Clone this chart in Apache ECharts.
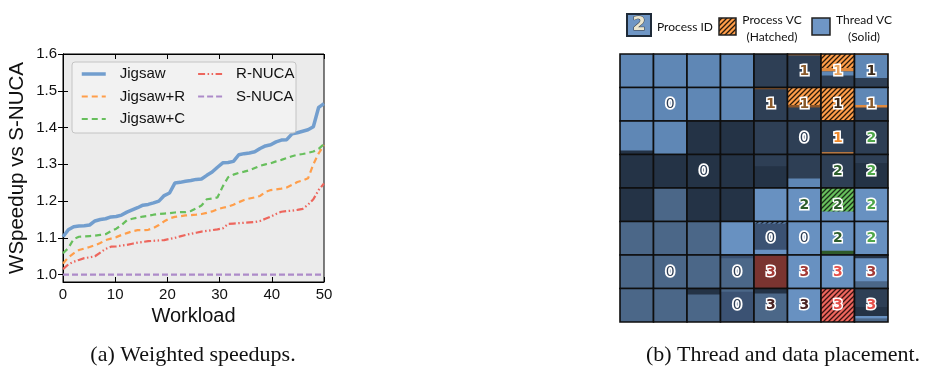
<!DOCTYPE html>
<html><head><meta charset="utf-8">
<script src="https://cdn.jsdelivr.net/npm/echarts@6/dist/echarts.min.js"></script>
<style>html,body{margin:0;padding:0;background:#fff}#c{width:931px;height:375px}</style>
</head><body><div id="c"></div>
<script>
// ---------- Panel (a): weighted speedups ----------
const xTicks = [0, 10, 20, 30, 40, 50];
const yTicks = [1.0, 1.1, 1.2, 1.3, 1.4, 1.5, 1.6];
const seriesNames = ['Jigsaw', 'Jigsaw+R', 'Jigsaw+C', 'R-NUCA', 'S-NUCA'];
const jigsaw = [1.103,1.122,1.130,1.132,1.133,1.135,1.146,1.150,1.152,1.157,1.158,1.162,1.170,1.176,1.182,1.189,1.191,1.195,1.200,1.215,
  1.222,1.249,1.251,1.254,1.256,1.259,1.260,1.270,1.279,1.292,1.304,1.305,1.308,1.326,1.329,1.331,1.334,1.343,1.350,1.353,
  1.361,1.366,1.367,1.383,1.386,1.390,1.394,1.402,1.455,1.465];
const jigsawR = [1.030,1.047,1.058,1.067,1.071,1.075,1.080,1.086,1.094,1.098,1.102,1.108,1.113,1.118,1.121,1.121,1.122,1.127,1.135,1.145,
  1.153,1.157,1.159,1.161,1.162,1.163,1.165,1.168,1.172,1.178,1.182,1.185,1.190,1.197,1.203,1.207,1.210,1.214,1.225,1.230,
  1.232,1.234,1.237,1.244,1.252,1.256,1.262,1.300,1.330,1.352];
const jigsawC = [1.058,1.072,1.097,1.103,1.104,1.105,1.106,1.108,1.110,1.118,1.125,1.135,1.148,1.152,1.155,1.158,1.160,1.163,1.165,1.166,
  1.167,1.169,1.170,1.170,1.173,1.180,1.188,1.205,1.207,1.210,1.240,1.265,1.272,1.277,1.280,1.284,1.290,1.296,1.300,1.303,
  1.308,1.312,1.317,1.322,1.326,1.328,1.331,1.335,1.342,1.355];
const rnuca = [1.015,1.028,1.035,1.040,1.045,1.047,1.050,1.060,1.070,1.076,1.077,1.079,1.081,1.084,1.087,1.089,1.091,1.092,1.093,1.094,
  1.097,1.100,1.104,1.108,1.111,1.114,1.117,1.119,1.121,1.123,1.126,1.138,1.139,1.140,1.141,1.142,1.143,1.146,1.152,1.158,
  1.165,1.171,1.173,1.174,1.176,1.179,1.190,1.205,1.230,1.248];
const snuca = [1,1,1,1,1,1,1,1,1,1,1,1,1,1,1,1,1,1,1,1,1,1,1,1,1,1,1,1,1,1,1,1,1,1,1,1,1,1,1,1,1,1,1,1,1,1,1,1,1,1];
const workloadX = jigsaw.map((_, i) => i * 50 / (jigsaw.length - 1));

// ---------- Panel (b): thread and data placement ----------
const gridCols = ['0','1','2','3','4','5','6','7'];
const gridRows = ['0','1','2','3','4','5','6','7'];
const cellBase = [
  ['L','L','L','L','M','M','M','M'],
  ['L','L','L','L','M','M','M','M'],
  ['L','L','D','D','M','M','M','M'],
  ['D','D','D','D','D','M','M','D'],
  ['D','S','D','D','B','B','B','B'],
  ['S','S','S','B','T','B','B','B'],
  ['S','S','S','S','R','B','B','B'],
  ['S','S','S','T','S','B','hR','M']
];
// [row, col, fromFraction, toFraction, fill]
const cellLayers = [
  [0,5,0,0.04,'O'],
  [0,6,0,0.42,'hO'],[0,6,0.42,0.52,'O'],[0,6,0.52,0.64,'L'],
  [0,7,0,0.03,'O'],[0,7,0.03,0.72,'L'],
  [1,4,0,0.05,'Ob'],
  [1,5,0,0.52,'hO'],[1,5,0.52,0.6,'Ob'],
  [1,6,0,1,'hO'],
  [1,7,0,0.52,'L'],[1,7,0.52,0.6,'O'],
  [2,0,0.88,1,'D'],
  [2,6,0.93,0.98,'O'],
  [3,4,0,0.35,'M'],
  [3,5,0.72,1,'L'],
  [3,7,0,0.25,'M'],
  [4,6,0,0.7,'hG'],
  [5,4,0,0.06,'hB'],[5,4,0.84,1,'B'],
  [5,6,0.87,0.98,'G'],
  [6,3,0,0.1,'T'],
  [6,7,0,0.1,'D'],[6,7,0.78,1,'S'],
  [7,2,0,0.18,'D'],
  [7,3,0,0.1,'S'],
  [7,4,0,0.15,'D'],
  [7,7,0.55,0.82,'D'],[7,7,0.82,0.9,'B'],[7,7,0.9,1,'S']
];
// [row, col, process id, label colour]
const cellLabels = [
  [1,1,'0','W'],[2,5,'0','W'],[3,2,'0','W'],[5,4,'0','W'],[5,5,'0','W'],[6,1,'0','W'],[6,3,'0','W'],[7,3,'0','W'],
  [0,5,'1','n1'],[0,6,'1','n1o'],[0,7,'1','n1d'],[1,4,'1','n1'],[1,5,'1','n1'],[1,6,'1','n1d'],[1,7,'1','n1'],[2,6,'1','o'],
  [2,7,'2','g'],[3,6,'2','gd'],[3,7,'2','g'],[4,5,'2','gd'],[4,6,'2','gd'],[4,7,'2','g'],[5,6,'2','gd'],[5,7,'2','g'],
  [6,4,'3','rd'],[6,5,'3','rd'],[6,6,'3','r'],[6,7,'3','rd'],[7,4,'3','k3'],[7,5,'3','k3'],[7,6,'3','r'],[7,7,'3','r']
];

function hatch(bg, line) {
  const c = document.createElement('canvas');
  c.width = 5; c.height = 5;
  const g = c.getContext('2d');
  g.fillStyle = bg; g.fillRect(0, 0, 5, 5);
  g.strokeStyle = line; g.lineWidth = 1.3;
  g.beginPath();
  g.moveTo(-1, 6); g.lineTo(6, -1);
  g.moveTo(-3.5, 3.5); g.lineTo(3.5, -3.5);
  g.moveTo(1.5, 8.5); g.lineTo(8.5, 1.5);
  g.stroke();
  return { image: c, repeat: 'repeat' };
}
const fills = {
  L: '#5f87b5', B: '#6891c1', D: '#243346', M: '#2e3f55', S: '#4b6788', T: '#3b5273', R: '#7a3430',
  O: '#e08a3e', Ob: '#8a5428', G: '#2f5a2a',
  hO: hatch('#ff9e4a', '#2a1a0a'), hG: hatch('#67bf5c', '#1a3018'), hR: hatch('#ed665d', '#3a1212'), hB: hatch('#6891c1', '#1c2838')
};
const labelColors = {
  W: '#2f3f56', n1: '#8a5a2b', n1o: '#e8a35e', n1d: '#3d2b1b', o: '#f08a2c',
  g: '#4fa64a', gd: '#2d5e2b', r: '#e5514b', rd: '#a33a36', k3: '#4a2424'
};
const cellData = [];
gridRows.forEach((_, r) => gridCols.forEach((__, c) => cellData.push([c, r])));

const chart = echarts.init(document.getElementById('c'), null, { renderer: 'canvas' });
const fam = 'Liberation Sans, Arial, sans-serif';
const lineColors = ['#729ece', '#ff9e4a', '#67bf5c', '#ed665d', '#ad8bc9'];
const lineData = [jigsaw, jigsawR, jigsawC, rnuca, snuca];
const lineTypes = ['solid', [6, 4], [6, 4], [7, 2.5, 1.5, 2.5, 1.5, 2.5], [6, 3]];
const lineWidths = [3.5, 2.2, 2.2, 2.2, 2.2];
const legendCommon = {
  orient: 'vertical', itemWidth: 24, itemHeight: 12, itemGap: 7.5, padding: 0, top: 66.5,
  itemStyle: { opacity: 0 },
  textStyle: { fontSize: 15, fontFamily: fam, color: '#111', padding: [0, 0, 0, 9] }, z: 6, selectedMode: false
};
const legendItems = seriesNames.map((name, k) => ({
  name, lineStyle: { width: lineWidths[k], type: lineTypes[k], color: lineColors[k] }
}));

const option = {
  backgroundColor: '#ffffff',
  animation: false,
  grid: [
    { left: 63, top: 54, width: 261, height: 228, show: true, backgroundColor: '#ebebeb', borderColor: '#000', borderWidth: 1 },
    { left: 620, top: 54, width: 268, height: 268, show: false }
  ],
  xAxis: [
    { gridIndex: 0, type: 'value', min: 0, max: 50, interval: 10, position: 'bottom',
      axisLine: { lineStyle: { color: '#000', width: 1 } },
      axisTick: { inside: true, length: 5, lineStyle: { color: '#000' } },
      axisLabel: { fontSize: 15, fontFamily: fam, color: '#111', margin: 5 },
      splitLine: { show: false },
      name: 'Workload', nameLocation: 'middle', nameGap: 24,
      nameTextStyle: { fontSize: 20, fontFamily: fam, color: '#111' } },
    { gridIndex: 0, type: 'value', min: 0, max: 50, interval: 10, position: 'top',
      axisLine: { lineStyle: { color: '#000', width: 1 } },
      axisTick: { inside: true, length: 5, lineStyle: { color: '#000' } },
      axisLabel: { show: false }, splitLine: { show: false } },
    { gridIndex: 1, type: 'category', data: gridCols, show: false }
  ],
  yAxis: [
    { gridIndex: 0, type: 'value', min: 0.98, max: 1.6, position: 'left',
      axisLine: { show: true, lineStyle: { color: '#000', width: 1 } },
      axisTick: { show: true, inside: true, length: 5, lineStyle: { color: '#000' }, customValues: yTicks },
      axisLabel: { fontSize: 15, fontFamily: fam, color: '#111', margin: 6, customValues: yTicks, formatter: v => Number(v).toFixed(1) },
      splitLine: { show: false },
      name: 'WSpeedup vs S-NUCA', nameLocation: 'middle', nameGap: 35, nameRotate: 90,
      nameTextStyle: { fontSize: 20.5, fontFamily: fam, color: '#111' } },
    { gridIndex: 0, type: 'value', min: 0.98, max: 1.6, position: 'right',
      axisLine: { show: true, lineStyle: { color: '#000', width: 1 } },
      axisTick: { show: true, inside: true, length: 5, lineStyle: { color: '#000' }, customValues: yTicks },
      axisLabel: { show: false, customValues: yTicks }, splitLine: { show: false } },
    { gridIndex: 1, type: 'category', data: gridRows, inverse: true, show: false }
  ],
  legend: [
    Object.assign({ data: legendItems.slice(0, 3), left: 80 }, legendCommon),
    Object.assign({ data: legendItems.slice(3), left: 197 }, legendCommon)
  ],
  graphic: [
    { type: 'rect', z: 5, shape: { x: 72, y: 62, width: 224, height: 71, r: 3 },
      style: { fill: 'rgba(243,243,243,0.85)', stroke: '#c4c4c4', lineWidth: 1 } },
    // panel (b) key
    { type: 'rect', shape: { x: 627, y: 14, width: 24, height: 22 }, style: { fill: '#6f96c5', stroke: '#1e2a38', lineWidth: 2 } },
    { type: 'text', x: 639, y: 25.5, style: { text: '2', font: 'bold 19px "DejaVu Sans"', fill: '#ebe6cf', stroke: '#3a3a3a', lineWidth: 1, align: 'center', verticalAlign: 'middle' } },
    { type: 'text', x: 657, y: 27, style: { text: 'Process ID', font: '12px Lato', fill: '#111', verticalAlign: 'middle' } },
    { type: 'rect', shape: { x: 719, y: 18, width: 17, height: 17 }, style: { fill: fills.hO, stroke: '#222', lineWidth: 1.5 } },
    { type: 'text', x: 772, y: 20, style: { text: 'Process VC', font: '12px Lato', fill: '#111', align: 'center', verticalAlign: 'middle' } },
    { type: 'text', x: 772, y: 37, style: { text: '(Hatched)', font: '12px Lato', fill: '#111', align: 'center', verticalAlign: 'middle' } },
    { type: 'rect', shape: { x: 812, y: 18, width: 18, height: 17 }, style: { fill: '#6f96c5', stroke: '#222', lineWidth: 1.5 } },
    { type: 'text', x: 864, y: 20, style: { text: 'Thread VC', font: '12px Lato', fill: '#111', align: 'center', verticalAlign: 'middle' } },
    { type: 'text', x: 864, y: 37, style: { text: '(Solid)', font: '12px Lato', fill: '#111', align: 'center', verticalAlign: 'middle' } },
    // captions
    { type: 'text', x: 193, y: 355, style: { text: '(a) Weighted speedups.', font: '22px "Liberation Serif"', fill: '#111', align: 'center', verticalAlign: 'middle' } },
    { type: 'text', x: 783, y: 355, style: { text: '(b) Thread and data placement.', font: '22px "Liberation Serif"', fill: '#111', align: 'center', verticalAlign: 'middle' } }
  ],
  series: seriesNames.map((name, k) => ({
    name, type: 'line', xAxisIndex: 0, yAxisIndex: 0, z: 3,
    data: lineData[k].map((v, i) => [workloadX[i], v]),
    showSymbol: false, symbol: 'none', clip: true,
    color: lineColors[k],
    lineStyle: { color: lineColors[k], width: lineWidths[k], type: lineTypes[k], cap: 'butt' }
  })).concat([{
    type: 'custom', xAxisIndex: 2, yAxisIndex: 2, data: cellData, silent: true,
    renderItem(params, api) {
      const c = api.value(0), r = api.value(1);
      const p = api.coord([c, r]);
      const s = api.size([1, 1]);
      const x0 = p[0] - s[0] / 2, y0 = p[1] - s[1] / 2, w = s[0], h = s[1];
      const children = [{ type: 'rect', shape: { x: x0, y: y0, width: w, height: h }, style: { fill: fills[cellBase[r][c]] } }];
      cellLayers.filter(l => l[0] === r && l[1] === c).forEach(l => {
        children.push({ type: 'rect', shape: { x: x0, y: y0 + h * l[2], width: w, height: h * (l[3] - l[2]) }, style: { fill: fills[l[4]] } });
      });
      children.push({ type: 'rect', shape: { x: x0, y: y0, width: w, height: h }, style: { fill: 'none', stroke: '#0e0e0e', lineWidth: 1.6 } });
      cellLabels.filter(l => l[0] === r && l[1] === c).forEach(l => {
        const isZero = l[3] === 'W';
        children.push({ type: 'text', x: p[0], y: p[1] + 0.5,
          style: { text: l[2], font: (isZero ? '' : 'bold ') + '14px "DejaVu Sans"', fill: labelColors[l[3]], stroke: '#ffffff',
                   lineWidth: isZero ? 3.6 : 3, align: 'center', verticalAlign: 'middle' } });
      });
      return { type: 'group', children };
    }
  }])
};
chart.setOption(option);
</script>
</body></html>
